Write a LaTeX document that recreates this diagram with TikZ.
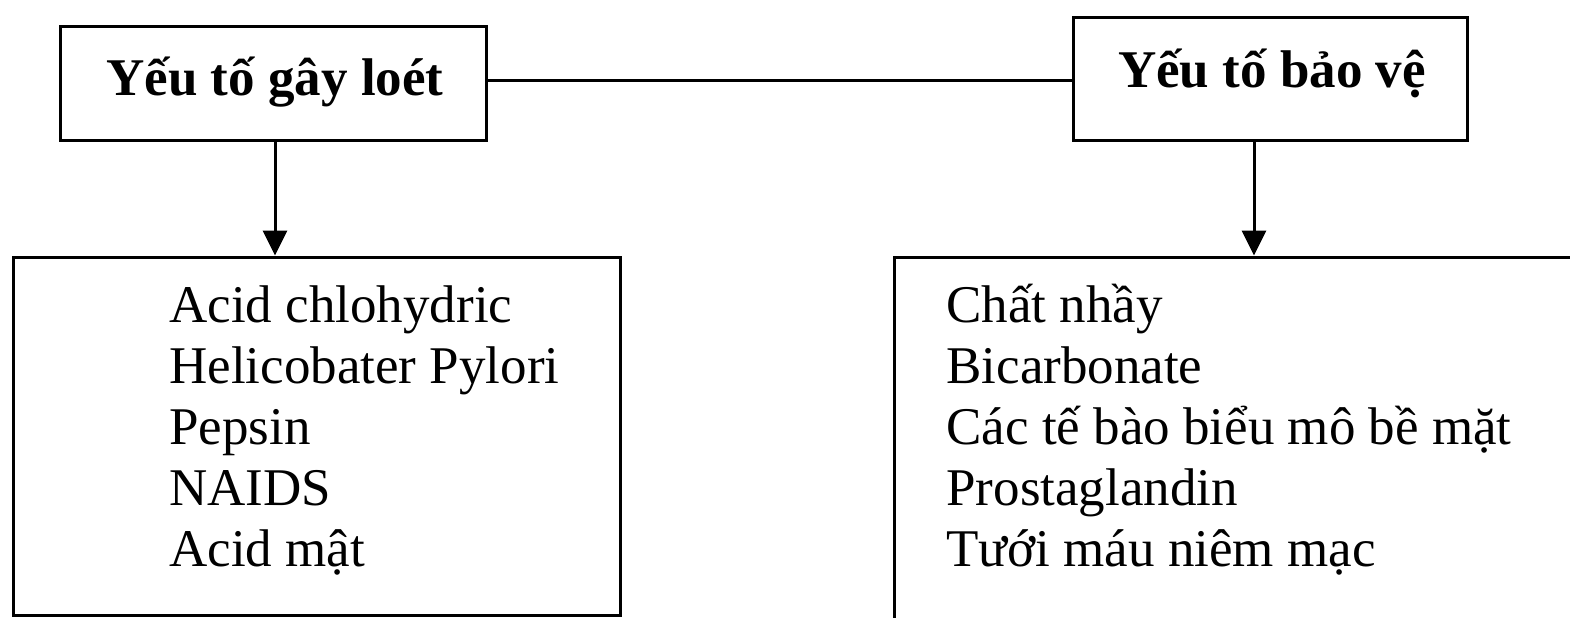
\documentclass[tikz,border=0pt]{standalone}
\usepackage{fontspec}
\setmainfont{Liberation Serif}
\usetikzlibrary{arrows.meta}
\begin{document}
\begin{tikzpicture}[x=0.5pt,y=-0.5pt,
  box/.style={draw=black,line width=1.5pt,inner sep=0pt,fill=none},
  title/.style={font=\fontsize{26.5pt}{30pt}\selectfont\bfseries,anchor=base,inner sep=0pt},
  item/.style={font=\fontsize{26.5pt}{30pt}\selectfont,anchor=base west,inner sep=0pt},
  link/.style={line width=1.5pt},
  arr/.style={line width=1.5pt,-{Triangle[length=12.5pt,width=12pt]}}]
\useasboundingbox (0,0) rectangle (1570,617);
\clip (0,0) rectangle (1570,617);
% boxes
\node[box,minimum width=213pt,minimum height=57pt] (lt) at (273,83) {};
\node[box,minimum width=197pt,minimum height=61.5pt] (rt) at (1270,78.5) {};
\node[box,minimum width=303.5pt,minimum height=179pt] (lb) at (316.5,436) {};
\node[box,minimum width=353pt,minimum height=196.5pt] (rb) at (1247,453.5) {};
% titles
\node[title] (ltt) at (275,95) {Yếu tố gây loét};
\node[title] (rtt) at (1272,87) {Yếu tố bảo vệ};
% connectors
\draw[link] ([yshift=1.5pt]lt.east) -- ([yshift=1.5pt]lt.east -| rt.west);
\draw[arr] ([xshift=1pt]lt.south) -- ([xshift=1pt]lt.south |- lb.north);
\coordinate (ra) at (1254,140);
\draw[arr] (ra) -- (ra |- rb.north);
% left list
\node[item] (l1) at (169,322) {Acid chlohydric};
\node[item] (l2) at (169,383.2) {Helicobater Pylori};
\node[item] (l3) at (169,444.4) {Pepsin};
\node[item] (l4) at (169,505.6) {NAIDS};
\node[item] (l5) at (169,566.8) {Acid mật};
% right list
\node[item] (r1) at (946,322) {Chất nhầy};
\node[item] (r2) at (946,383.2) {Bicarbonate};
\node[item] (r3) at (946,444.4) {Các tế bào biểu mô bề mặt};
\node[item] (r4) at (946,505.6) {Prostaglandin};
\node[item] (r5) at (946,566.8) {Tưới máu niêm mạc};
\end{tikzpicture}
\end{document}
